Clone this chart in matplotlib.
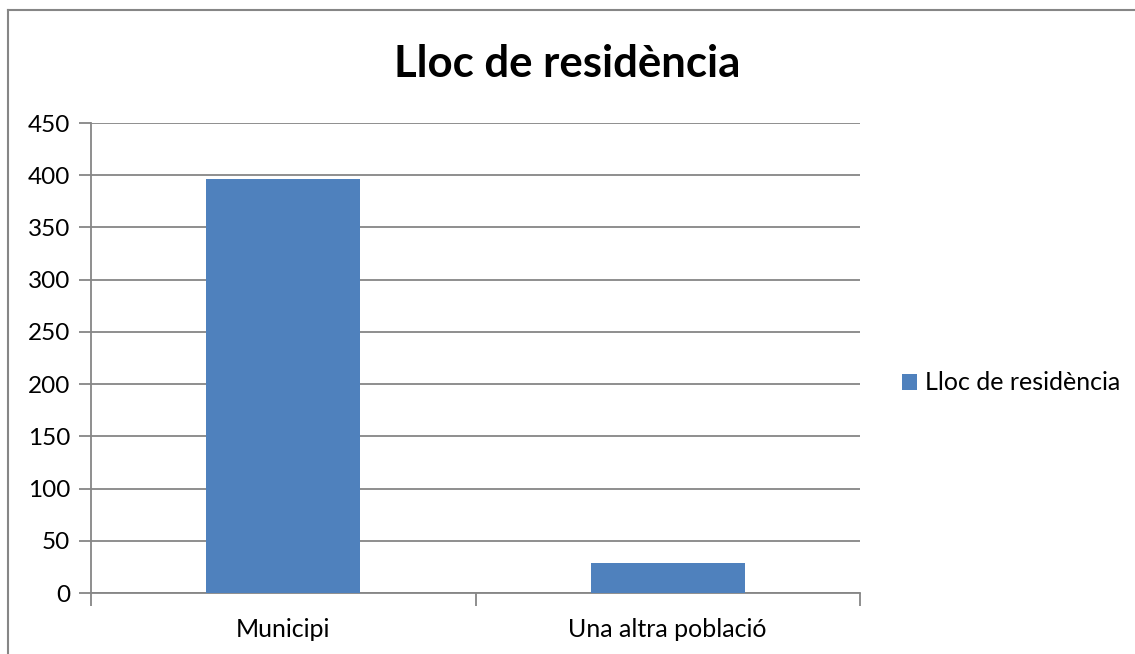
import matplotlib
matplotlib.use("Agg")
import matplotlib.pyplot as plt
from matplotlib.lines import Line2D

categories = ["Municipi", "Una altra població"]
values = [396, 29]
series_name = "Lloc de residència"
y_ticks = [0, 50, 100, 150, 200, 250, 300, 350, 400, 450]

plt.rcParams["font.family"] = ["Lato", "DejaVu Sans"]

bar_color = "#4F81BD"
grid_color = "#868686"

fig = plt.figure(figsize=(11.35, 6.54), dpi=100)
ax = fig.add_axes([91 / 1135, 1 - 593 / 654, (860 - 91) / 1135, (593 - 123) / 654])

x = list(range(len(categories)))
ax.bar(x, values, width=0.4, color=bar_color, label=series_name, zorder=3)

ax.set_xlim(-0.5, len(categories) - 0.5)
ax.set_ylim(0, 450)
ax.set_yticks(y_ticks)
ax.set_yticklabels([str(v) for v in y_ticks], fontsize=17.5)
ax.yaxis.grid(True, color=grid_color, linewidth=1.3, zorder=0)

ax.set_xticks(x)
ax.set_xticklabels(categories, fontsize=18)
ax.tick_params(axis="x", length=0, pad=18)
ax.set_xticks([-0.5, 0.5, 1.5], minor=True)
ax.tick_params(axis="x", which="minor", length=9, width=1.3, color=grid_color, direction="out")
ax.tick_params(axis="y", length=9, width=1.3, color=grid_color, direction="out", pad=6)

for side in ["top", "right"]:
    ax.spines[side].set_visible(False)
for side in ["left", "bottom"]:
    ax.spines[side].set_color(grid_color)
    ax.spines[side].set_linewidth(1.3)

fig.suptitle(series_name, fontsize=31.5, fontweight="bold", x=0.5, y=1 - 64 / 654, va="center")

fig.legend(loc="center left", bbox_to_anchor=(879 / 1135, 1 - 383 / 654), frameon=False,
           fontsize=18, handlelength=0.6, handleheight=0.6, handletextpad=0.35)

# chart area border
fig.add_artist(Line2D([8 / 1135, 8 / 1135], [0, 1 - 10 / 654], transform=fig.transFigure,
                      color=grid_color, linewidth=1.5))
fig.add_artist(Line2D([8 / 1135, 1], [1 - 10 / 654, 1 - 10 / 654], transform=fig.transFigure,
                      color=grid_color, linewidth=1.5))

fig.savefig("out.png", dpi=100)
